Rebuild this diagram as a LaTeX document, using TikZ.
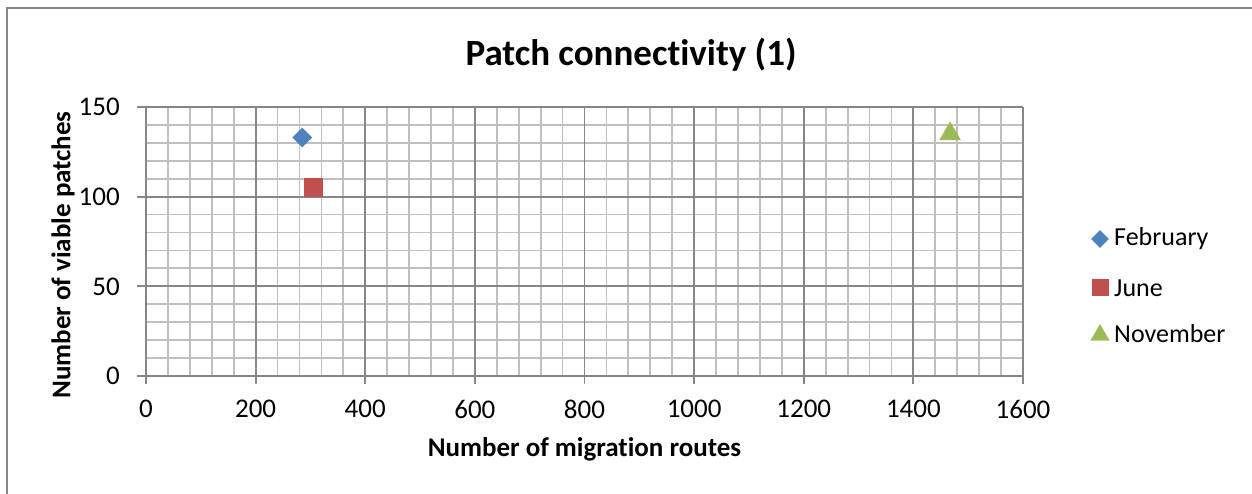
\documentclass[tikz,border=0pt]{standalone}
\usepackage{fontspec}
\setmainfont{Carlito}[Ligatures=NoCommon]
\usetikzlibrary{shapes.geometric}

\definecolor{febblue}{HTML}{4F81BD}
\definecolor{junred}{HTML}{C0504D}
\definecolor{novgreen}{HTML}{9BBB59}
\definecolor{gridlight}{RGB}{191,191,191}
\definecolor{griddark}{RGB}{134,134,134}

\tikzstyle{minorline} = [draw=gridlight, line width=1.8pt]
\tikzstyle{majorline} = [draw=griddark, line width=1.8pt]
\tikzstyle{ticklab} = [inner sep=0pt, font=\fontsize{27}{30}\selectfont]
\tikzstyle{axtitle} = [inner sep=0pt, font=\bfseries\fontsize{27}{30}\selectfont]
\tikzstyle{legtext} = [inner sep=0pt, anchor=west, font=\fontsize{26}{29}\selectfont]
\tikzstyle{febmark} = [diamond, fill=febblue, inner sep=0pt, minimum size=20pt]
\tikzstyle{junmark} = [rectangle, fill=junred, inner sep=0pt, minimum size=19pt]
\tikzstyle{novmark} = [regular polygon, regular polygon sides=3, fill=novgreen, inner sep=0pt, minimum size=25pt]

\begin{document}
\begin{tikzpicture}[x=1pt, y=1pt]
\useasboundingbox (0,0) rectangle (1252,493);
% chart frame
\draw[draw=griddark, line width=1.5pt] (7,-20) -- (7,485) -- (1270,485);

\node[font=\bfseries\fontsize{37}{40}\selectfont] (title) at (631,438) {Patch connectivity (1)};

\begin{scope}[shift={(146,117)}, x=0.548125pt, y=1.79333pt]
% grid
\foreach \gx in {40,80,...,1560}
  \draw[minorline] (\gx,0) -- (\gx,150);
\foreach \gy in {10,20,...,140}
  \draw[minorline] (0,\gy) -- (1600,\gy);
\foreach \gx in {0,200,...,1600}
  \draw[majorline] (\gx,-4.5) -- (\gx,150);
\foreach \gy in {0,50,100,150}
  \draw[majorline] (-16,\gy) -- (1600,\gy);
% tick labels
\foreach \gx in {0,200,...,1600}
  \node[ticklab, yshift=-33pt] (xl\gx) at (\gx,0) {\gx};
\foreach \gy in {0,50,100,150}
  \node[ticklab, anchor=east, xshift=-26pt] (yl\gy) at (0,\gy) {\gy};
% axis titles
\node[axtitle] (xtitle) at (800,0) [yshift=-73pt] {Number of migration routes};
% data
\node[febmark] (feb) at (285,133) {};
\node[junmark] (jun) at (306,105) {};
\node[novmark] (nov) at (1467,135) {};
\end{scope}
\node[axtitle, rotate=90] (ytitle) at (63,238) {Number of viable patches};

% legend
\node[febmark, minimum size=18pt] (legfeb) at (1100,254) {};
\node[legtext] (txtfeb) at (1114,254) {February};
\node[junmark, minimum size=17pt] (legjun) at (1100,205) {};
\node[legtext] (txtjun) at (1114,205) {June};
\node[novmark, minimum size=22pt] (legnov) at (1100,158) {};
\node[legtext] (txtnov) at (1114,159) {November};
\end{tikzpicture}
\end{document}
